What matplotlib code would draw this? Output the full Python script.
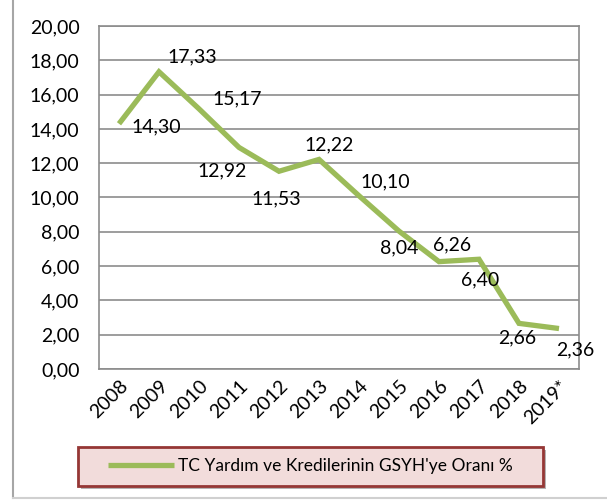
import matplotlib
matplotlib.use("Agg")
import matplotlib.pyplot as plt
import matplotlib.patheffects as pe
from matplotlib.patches import Rectangle

years = ["2008", "2009", "2010", "2011", "2012", "2013",
         "2014", "2015", "2016", "2017", "2018", "2019*"]
ratio = [14.30, 17.33, 15.17, 12.92, 11.53, 12.22,
         10.10, 8.04, 6.26, 6.40, 2.66, 2.36]
series_name = "TC Yardım ve Kredilerinin GSYH'ye Oranı %"

# label offsets in pixels (dx, dy) as placed in the original
label_offsets = [(37, -3), (33, 15), (38, 10), (-17, -23), (-3, -28), (10, 15),
                 (26, 14), (0, -17), (13, 17), (1, -21), (-2, -14), (16, -21)]

GREEN = "#9bbb59"
GRID = "#8c8c8c"
FONT = "Lato"
FS = 14

plt.rcParams["font.family"] = [FONT, "DejaVu Sans"]

fig = plt.figure(figsize=(6.07, 5.01), dpi=100)
W, H = 607, 501

# outer chart frame (only left and bottom edges visible)
fig.add_artist(plt.Line2D([13 / W, 13 / W], [1 - 498 / H, 1.0], color="#a6a6a6",
                          lw=1.5, transform=fig.transFigure))
fig.add_artist(plt.Line2D([13 / W, 1.0], [1 - 498 / H, 1 - 498 / H], color="#d0d0d0",
                          lw=1.5, transform=fig.transFigure))

ax = fig.add_axes([99 / W, 1 - 369 / H, 480 / W, 343 / H])
x = list(range(len(years)))
line, = ax.plot(x, ratio, color=GREEN, lw=3.8, solid_joinstyle="miter",
                solid_capstyle="butt", zorder=3, label=series_name)

for xi, v, (dx, dy) in zip(x, ratio, label_offsets):
    ax.annotate(f"{v:.2f}".replace(".", ","), (xi, v), xytext=(dx, dy),
                textcoords="offset pixels", ha="center", va="center",
                fontsize=FS, color="black", zorder=4)

ax.set_xlim(-0.5, len(years) - 0.5)
ax.set_ylim(0, 20)
ax.set_yticks(range(0, 21, 2))
ax.set_yticklabels([f"{t:.2f}".replace(".", ",") for t in range(0, 21, 2)])
ax.set_xticks(x)
ax.set_xticklabels(years, rotation=45, ha="right", va="top", rotation_mode="anchor")
ax.tick_params(axis="y", length=0, pad=14, labelsize=FS)
ax.tick_params(axis="x", length=0, pad=6, labelsize=FS)
ax.grid(axis="y", color=GRID, lw=1.2)
ax.set_axisbelow(True)
for s in ax.spines.values():
    s.set_color(GRID)
    s.set_linewidth(1.2)

# legend box
box = Rectangle((78 / W, 1 - 486 / H), (543 - 78) / W, (486 - 447) / H,
                transform=fig.transFigure, facecolor="#f2dcdb", edgecolor="#953735",
                lw=2, zorder=1,
                path_effects=[pe.SimplePatchShadow(offset=(2, -2), alpha=0.4), pe.Normal()])
fig.add_artist(box)
fig.legend(handles=[line], loc="center", bbox_to_anchor=((78 + 543) / 2 / W, 1 - 466 / H),
           frameon=False, fontsize=12.5, handlelength=3.8, handletextpad=0.2,
           borderaxespad=0)

fig.savefig("out.png", dpi=100)
